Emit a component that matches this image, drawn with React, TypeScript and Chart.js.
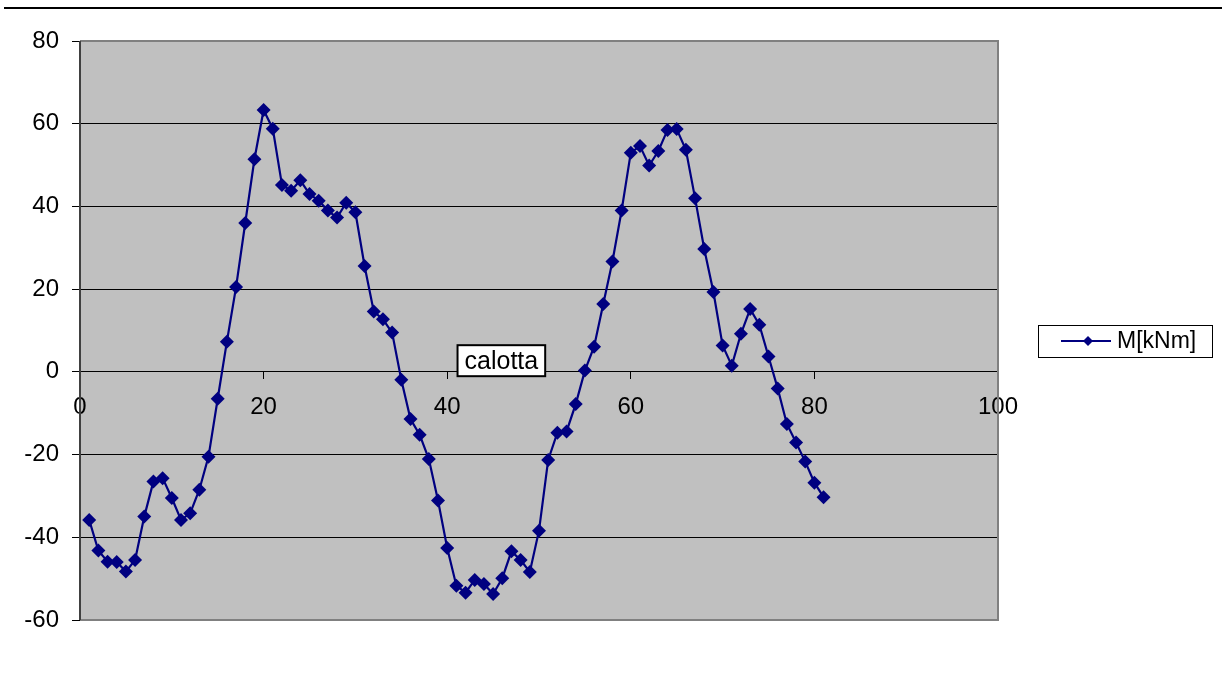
import React, { useEffect, useRef } from "react";
import { Chart, registerables } from "chart.js";

Chart.register(...registerables);

// Station index along the section
const stations = [
  1, 2, 3, 4, 5, 6, 7, 8, 9, 10, 11, 12, 13, 14, 15, 16, 17, 18, 19, 20,
  21, 22, 23, 24, 25, 26, 27, 28, 29, 30, 31, 32, 33, 34, 35, 36, 37, 38, 39, 40,
  41, 42, 43, 44, 45, 46, 47, 48, 49, 50, 51, 52, 53, 54, 55, 56, 57, 58, 59, 60,
  61, 62, 63, 64, 65, 66, 67, 68, 69, 70, 71, 72, 73, 74, 75, 76, 77, 78, 79, 80,
  81,
];

// Bending moment M [kNm] at each station
const moments = [
  -35.8, -43.2, -45.9, -46.0, -48.3, -45.5, -35.0, -26.5, -25.7, -30.5,
  -35.8, -34.2, -28.5, -20.5, -6.5, 7.3, 20.5, 36.0, 51.4, 63.3,
  58.8, 45.2, 43.8, 46.3, 43.0, 41.4, 39.0, 37.3, 40.9, 38.6,
  25.6, 14.6, 12.7, 9.5, -1.9, -11.4, -15.2, -21.1, -31.1, -42.6,
  -51.7, -53.4, -50.3, -51.3, -53.7, -49.9, -43.4, -45.5, -48.4, -38.4,
  -21.3, -14.7, -14.4, -7.8, 0.3, 6.1, 16.4, 26.7, 39.0, 53.0,
  54.6, 49.9, 53.4, 58.5, 58.7, 53.7, 42.0, 29.7, 19.3, 6.4,
  1.5, 9.2, 15.2, 11.4, 3.7, -4.0, -12.6, -17.1, -21.7, -26.8,
  -30.3,
];

const seriesLabel = "M[kNm]";
const noteText = "calotta";
const noteAt = { x: 45.9, y: 2.7 };

const xRange = { min: 0, max: 100, step: 20 };
const yRange = { min: -60, max: 80, step: 20 };

const NAVY = "#000080";
const FONT = "'Liberation Sans', Arial, sans-serif";

const plotFrame = {
  id: "plotFrame",
  beforeDatasetsDraw(chart: any) {
    const { ctx, chartArea: a } = chart;
    ctx.save();
    ctx.strokeStyle = "#808080";
    ctx.lineWidth = 2;
    ctx.beginPath();
    ctx.moveTo(a.left, a.top);
    ctx.lineTo(a.right, a.top);
    ctx.lineTo(a.right, a.bottom);
    ctx.lineTo(a.left, a.bottom);
    ctx.stroke();
    ctx.strokeStyle = "#404040";
    ctx.beginPath();
    ctx.moveTo(a.left, a.top);
    ctx.lineTo(a.left, a.bottom);
    ctx.stroke();
    ctx.restore();
  },
  beforeDraw(chart: any) {
    const { ctx, chartArea: a } = chart;
    ctx.save();
    ctx.fillStyle = "#c0c0c0";
    ctx.fillRect(a.left, a.top, a.right - a.left, a.bottom - a.top);
    ctx.restore();
  },
};

const drawDiamond = (ctx: CanvasRenderingContext2D, x: number, y: number, r: number) => {
  ctx.beginPath();
  ctx.moveTo(x, y - r);
  ctx.lineTo(x + r, y);
  ctx.lineTo(x, y + r);
  ctx.lineTo(x - r, y);
  ctx.closePath();
  ctx.fill();
};

const annotations = {
  id: "annotations",
  afterDraw(chart: any) {
    const { ctx, chartArea: a, scales } = chart;
    ctx.save();

    // note box inside the plot
    ctx.font = `25px ${FONT}`;
    const cx = scales.x.getPixelForValue(noteAt.x);
    const cy = scales.y.getPixelForValue(noteAt.y);
    const tw = ctx.measureText(noteText).width;
    const bw = tw + 14;
    const bh = 31;
    ctx.fillStyle = "#ffffff";
    ctx.fillRect(cx - bw / 2, cy - bh / 2, bw, bh);
    ctx.strokeStyle = "#000000";
    ctx.lineWidth = 2;
    ctx.strokeRect(cx - bw / 2, cy - bh / 2, bw, bh);
    ctx.fillStyle = "#000000";
    ctx.textAlign = "center";
    ctx.textBaseline = "middle";
    ctx.fillText(noteText, cx, cy + 1);

    // legend box to the right of the plot
    const lx = a.right + 40;
    const ly = 325;
    const lw = 174;
    const lh = 32;
    const mid = ly + lh / 2;
    ctx.fillStyle = "#ffffff";
    ctx.fillRect(lx, ly, lw, lh);
    ctx.strokeStyle = "#000000";
    ctx.lineWidth = 1;
    ctx.strokeRect(lx + 0.5, ly + 0.5, lw, lh);
    ctx.strokeStyle = NAVY;
    ctx.lineWidth = 2;
    ctx.beginPath();
    ctx.moveTo(lx + 23, mid);
    ctx.lineTo(lx + 73, mid);
    ctx.stroke();
    ctx.fillStyle = NAVY;
    drawDiamond(ctx, lx + 50, mid, 5);
    ctx.fillStyle = "#000000";
    ctx.textAlign = "left";
    ctx.textBaseline = "middle";
    ctx.font = `23px ${FONT}`;
    ctx.fillText(seriesLabel, lx + 79, mid + 1);

    ctx.restore();
  },
};

export default function App() {
  const canvasRef = useRef<HTMLCanvasElement | null>(null);

  useEffect(() => {
    const canvas = canvasRef.current;
    if (!canvas) return;
    const points = stations.map((s, i) => ({ x: s, y: moments[i] }));

    const chart = new Chart(canvas, {
      type: "line",
      data: {
        datasets: [
          {
            label: seriesLabel,
            data: points,
            borderColor: NAVY,
            backgroundColor: NAVY,
            borderWidth: 2.2,
            pointStyle: "rectRot",
            pointRadius: 7,
            pointBackgroundColor: NAVY,
            pointBorderColor: NAVY,
            pointBorderWidth: 0,
            tension: 0,
          },
        ],
      },
      options: {
        animation: false,
        responsive: true,
        maintainAspectRatio: false,
        layout: { padding: { left: 0, top: 41, right: 224, bottom: 53 } },
        plugins: {
          legend: { display: false },
          tooltip: { enabled: false },
        },
        scales: {
          x: {
            type: "linear",
            position: { y: 0 } as any,
            min: xRange.min,
            max: xRange.max,
            afterFit: (s: any) => {
              s.height = 0;
            },
            ticks: {
              stepSize: xRange.step,
              color: "#000000",
              font: { family: FONT, size: 24 },
              padding: 14,
              maxRotation: 0,
            },
            grid: {
              drawOnChartArea: false,
              drawTicks: true,
              tickLength: 7,
              color: "#000000",
            },
            border: { display: true, color: "#000000", width: 1 },
          },
          y: {
            type: "linear",
            min: yRange.min,
            max: yRange.max,
            afterFit: (s: any) => {
              s.width = 80;
            },
            ticks: {
              stepSize: yRange.step,
              color: "#000000",
              font: { family: FONT, size: 24 },
              padding: 13,
            },
            grid: {
              color: (c: any) =>
                c.tick && (c.tick.value === yRange.max || c.tick.value === yRange.min)
                  ? "rgba(0,0,0,0)"
                  : "#000000",
              tickColor: "#000000",
              lineWidth: 1,
              tickLength: 8,
            },
            border: { display: false },
          },
        },
      },
      plugins: [plotFrame, annotations],
    });

    return () => chart.destroy();
  }, []);

  return (
    <div style={{ position: "fixed", left: 0, top: 0, width: 1222, height: 673, background: "#ffffff" }}>
      <div
        style={{
          position: "absolute",
          left: 4,
          right: 0,
          top: 7,
          height: 2,
          background: "#000000",
        }}
      />
      <canvas ref={canvasRef} />
    </div>
  );
}
